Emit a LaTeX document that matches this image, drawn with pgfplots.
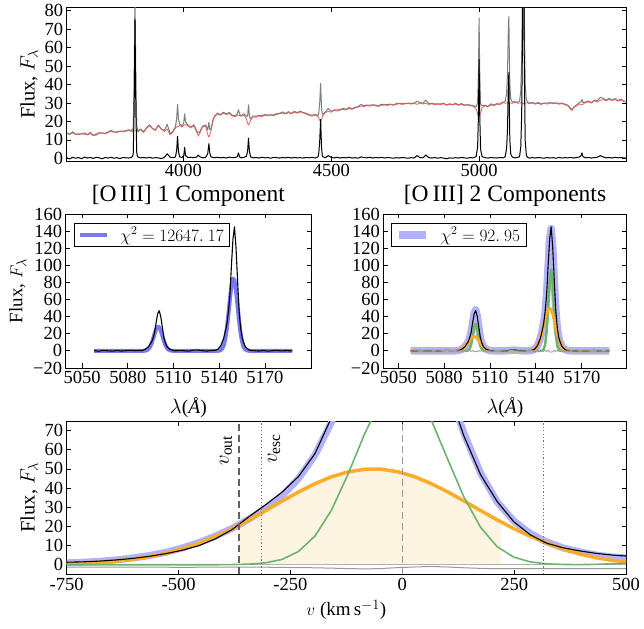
\documentclass[border=0pt]{standalone}
\usepackage{fontspec}
\setmainfont{Liberation Serif}
\usepackage{pgfplots}
\pgfplotsset{compat=1.18}
\usepackage{pgfplotstable}

\definecolor{cred}{RGB}{225,85,85}
\definecolor{cgray}{RGB}{125,125,125}
\definecolor{corange}{RGB}{251,172,40}
\definecolor{cfill}{RGB}{254,244,226}
\definecolor{cgreen}{RGB}{108,180,108}
\definecolor{cbluel}{RGB}{178,178,250}
\definecolor{cblue}{RGB}{120,120,245}

\newcommand{\tickfont}{\fontsize{18.5}{20}\selectfont}
\newcommand{\labfont}{\fontsize{20.5}{22}\selectfont}

\pgfplotsset{
  myax/.style={
    scale only axis, anchor=south west,
    axis line style={line width=0.9pt},
    tick style={black, line width=0.8pt},
    tick align=inside, tick pos=both,
    major tick length=4.5pt,
    ticklabel style={font=\tickfont},
    /pgf/number format/assume math mode=true,
    /pgf/number format/1000 sep={},
    clip=true,
    every axis plot/.append style={no markers, line join=round},
    legend image code/.code={\draw[##1, line cap=butt] (0pt,0pt) -- (27pt,0pt); \path (36pt,0pt);},
  }
}

\pgfplotstableread{
lam red blk gry
3605 13.5 0.4 13.9
3615 13.2 -0.3 12.9
3625 13.8 0.6 14.4
3635 13.0 0.1 13.1
3645 12.8 0.5 13.3
3655 13.4 -0.2 13.2
3665 13.1 0.7 13.8
3675 12.7 0.2 12.9
3685 13.5 0.5 14.0
3695 12.4 0.0 12.4
3705 12.6 0.6 13.2
3715 13.6 0.3 13.9
3725 13.9 -0.2 13.7
3735 13.2 0.5 13.7
3745 14.0 0.2 14.2
3755 14.6 0.6 15.2
3765 14.2 0.1 14.3
3775 14.0 0.4 14.4
3785 14.8 -0.1 14.7
3795 14.3 0.5 14.8
3805 14.7 0.3 15.0
3815 15.3 0.2 15.5
3825 14.4 0.6 15.0
3830 14.6 2.0 16.6
3833 14.8 25 39.8
3836 14.9 75 89.9
3839 15.0 25 40.0
3842 14.9 3 17.9
3845 14.2 0.8 15.0
3855 15.6 0.3 15.9
3865 14.0 0.5 14.5
3875 16.3 0.2 16.5
3885 17.6 0.6 18.2
3895 16.2 0.1 16.3
3905 15.1 0.4 15.5
3915 17.8 0.3 18.1
3925 16.0 -0.1 15.9
3935 14.6 0.5 15.1
3945 15.9 2.5 18.4
3955 12.8 0.6 13.4
3965 14.4 0.4 14.8
3973 16.5 0.8 17.3
3977 17.0 4.5 21.5
3980 17.2 12 29.2
3983 17.4 4 21.4
3987 17.9 0.8 18.7
3995 17.0 0.5 17.5
4001 17.8 1.5 19.3
4004 18.2 6 24.2
4007 18.4 1.5 19.9
4015 17.6 0.5 18.1
4025 16.4 0.6 17.0
4035 17.8 0.4 18.2
4045 14.0 0.8 14.8
4050 12.0 1.8 13.8
4055 13.5 0.9 14.4
4065 17.2 0.3 17.5
4075 17.5 0.6 18.1
4082 13.0 2.5 15.5
4086 11.5 8 19.5
4089 12.5 3 15.5
4093 14.8 0.8 15.6
4100 20.5 0.5 21.0
4105 22.5 0.4 22.9
4115 24.0 0.6 24.6
4125 23.4 0.3 23.7
4135 24.5 0.5 25.0
4145 23.8 0.2 24.0
4155 24.2 0.7 24.9
4165 23.0 0.4 23.4
4175 22.6 0.5 23.1
4182 23.2 0.9 24.1
4186 23.4 3.0 26.4
4190 23.2 0.8 24.0
4195 22.8 0.3 23.1
4205 23.5 0.6 24.1
4213 21.5 1.2 22.7
4217 19.0 4.0 23.0
4220 18.0 11 29.0
4223 18.8 4 22.8
4227 20.5 0.8 21.3
4235 22.6 0.3 22.9
4245 22.3 0.5 22.8
4255 23.0 0.2 23.2
4265 22.6 0.6 23.2
4275 23.4 0.3 23.7
4285 23.0 0.5 23.5
4295 23.5 0.1 23.6
4305 23.0 0.6 23.6
4315 23.8 0.4 24.2
4325 24.2 0.2 24.4
4335 24.6 0.5 25.1
4345 24.0 0.3 24.3
4355 24.7 0.6 25.3
4365 24.2 0.2 24.4
4375 25.0 0.5 25.5
4385 24.5 0.3 24.8
4395 25.2 0.4 25.6
4405 24.6 0.2 24.8
4415 24.0 0.5 24.5
4425 23.4 0.3 23.7
4435 22.8 0.6 23.4
4445 23.6 0.2 23.8
4455 22.5 0.8 23.3
4458 22.0 3.0 25.0
4461 20.5 10 30.5
4464 19.5 21 40.5
4467 21.0 6 27.0
4470 22.8 1.0 23.8
4480 24.8 0.4 25.2
4490 25.5 1.5 27.0
4500 25.0 0.5 25.5
4510 26.0 0.3 26.3
4520 25.6 0.6 26.2
4530 26.2 0.2 26.4
4540 26.6 0.5 27.1
4550 26.2 0.3 26.5
4560 27.0 0.6 27.6
4570 26.6 0.2 26.8
4580 27.3 0.4 27.7
4590 27.8 0.1 27.9
4600 28.4 0.8 29.2
4610 28.0 0.5 28.5
4620 28.6 0.3 28.9
4630 28.2 0.6 28.8
4640 28.8 0.2 29.0
4650 28.4 0.5 28.9
4660 28.2 0.3 28.5
4670 28.7 0.6 29.3
4680 29.0 0.2 29.2
4690 28.6 0.5 29.1
4700 29.1 0.3 29.4
4710 28.8 0.1 28.9
4720 29.3 0.4 29.7
4730 29.6 0.2 29.8
4740 29.2 0.5 29.7
4750 29.5 0.3 29.8
4760 29.8 0.1 29.9
4770 29.4 0.4 29.8
4780 29.7 0.2 29.9
4790 29.3 1.5 30.8
4800 29.9 0.5 30.4
4810 29.5 0.3 29.8
4820 29.8 1.8 31.6
4830 29.2 0.4 29.6
4840 29.6 0.2 29.8
4850 29.0 0.5 29.5
4860 29.4 0.1 29.5
4870 29.1 0.4 29.5
4880 29.6 0.2 29.8
4890 29.0 -0.2 28.8
4900 29.3 0.3 29.6
4910 29.0 0.1 29.1
4920 29.4 0.4 29.8
4930 28.8 0.2 29.0
4940 29.2 0.5 29.7
4950 28.6 0.3 28.9
4960 29.0 0.1 29.1
4970 28.5 0.4 28.9
4980 28.2 0.3 28.5
4990 27.0 1.0 28.0
4995 24.0 6.0 30.0
4998 23.0 25 48.0
5000 22.5 53.5 76.0
5002 23.2 25 48.2
5005 24.5 5 29.5
5010 27.5 1 28.5
5020 28.4 0.4 28.8
5030 28.0 0.2 28.2
5040 29.0 0.5 29.5
5050 28.6 0.3 28.9
5060 29.4 0.2 29.6
5070 29.0 0.5 29.5
5080 30.2 0.3 30.5
5088 29.9 0.8 30.7
5093 30.0 5.2 35.2
5096 30.1 15 45.1
5099 30.2 40 70.2
5100.7 30.3 46.5 76.8
5102 30.3 30 60.3
5104 30.2 10 40.2
5107 30.0 2.5 32.5
5112 29.8 0.8 30.6
5120 30.4 0.3 30.7
5130 29.9 0.5 30.4
5137 30.0 1.0 31.0
5141 30.1 6.2 36.3
5144 30.2 23 53.2
5147 30.0 66 96.0
5150 29.5 145 174.5
5153 29.7 48 77.7
5156 29.9 9.5 39.4
5160 30.1 1.5 31.6
5165 29.9 0.5 30.4
5170 29.6 0.2 29.8
5180 30.0 0.4 30.4
5190 29.4 0.2 29.6
5200 29.8 0.5 30.3
5210 29.2 0.3 29.5
5220 29.9 0.1 30.0
5230 29.4 0.5 29.9
5240 30.0 0.2 30.2
5250 29.6 0.4 30.0
5260 29.9 0.1 30.0
5270 29.3 0.5 29.8
5280 29.7 0.2 29.9
5290 29.0 0.4 29.4
5300 28.5 0.3 28.8
5310 26.5 0.6 27.1
5315 26.0 0.4 26.4
5320 27.5 0.2 27.7
5330 28.5 0.5 29.0
5340 29.5 0.8 30.3
5345 29.2 1.5 30.7
5348 29.0 3.0 32.0
5351 29.3 1.0 30.3
5360 30.2 0.3 30.5
5370 30.6 0.5 31.1
5380 30.0 0.2 30.2
5390 31.2 0.4 31.6
5400 30.6 0.6 31.2
5410 31.5 1.5 33.0
5420 31.8 0.8 32.6
5430 31.2 0.3 31.5
5440 32.0 0.5 32.5
5450 31.4 0.2 31.6
5460 31.8 0.6 32.4
5470 31.0 0.3 31.3
5480 31.6 0.5 32.1
5490 30.8 0.2 31.0
5495 30.5 0.4 30.9
}\spec

\pgfplotstableread{
lam dat one tot nar brd res
5058 0.3 0 0 0 0 0.3
5061 -0.4 0 0 0 0 -0.4
5064 0.5 0 0 0 0 0.5
5067 0.1 0 0 0 0 0.1
5070 -0.3 0 0 0 0 -0.3
5073 0.4 0 0 0 0 0.4
5076 -0.2 0 0 0 0 -0.2
5079 0.3 0 0 0 0 0.3
5082 0.6 0 0 0 0 0.6
5085 0.2 0 0.02 0 0.02 0.2
5087.65 0.4 0 0.14 0 0.14 0.26
5089.65 0.5 0.03 0.62 0 0.62 -0.1
5090.65 1.4 0.11 1.17 0 1.17 0.2
5091.65 2.0 0.35 2.07 0 2.07 -0.1
5092.65 3.6 0.95 3.40 0 3.40 0.2
5093.65 5.0 2.27 5.23 0.01 5.22 -0.2
5094.65 7.9 4.77 7.58 0.08 7.50 0.3
5095.65 10.3 8.79 10.57 0.50 10.07 -0.3
5096.65 15.2 14.23 14.91 2.26 12.65 0.3
5097.65 21.6 20.34 22.15 7.28 14.87 -0.5
5098.65 33.5 25.60 33.08 16.74 16.34 0.4
5099.65 43.5 28.36 44.13 27.35 16.78 -0.6
5100.65 47.0 27.65 47.99 31.88 16.11 -1.0
5101.65 40.2 23.72 40.90 26.44 14.46 -0.7
5102.65 28.1 17.92 27.79 15.64 12.15 0.3
5103.65 15.8 11.91 16.11 6.58 9.53 -0.3
5104.65 9.2 6.98 8.98 1.97 7.01 0.2
5105.65 5.0 3.59 5.22 0.42 4.80 -0.2
5106.65 3.3 1.63 3.15 0.06 3.09 0.15
5107.65 1.7 0.65 1.86 0.01 1.86 -0.16
5108.65 1.2 0.23 1.04 0 1.04 0.16
5110.65 0.1 0.02 0.27 0 0.27 -0.17
5113.65 0.3 0 0.02 0 0.02 0.28
5117 0.2 0 0 0 0 0.2
5120 -0.3 0 0 0 0 -0.3
5123 0.8 0 0.5 0 0 0.3
5126 1.0 0 0.9 0 0 0.1
5129 0.3 0 0.4 0 0 -0.1
5132 -0.2 0 0 0 0 -0.2
5134 0.3 0 0.03 0 0.03 0.27
5137 0.6 0.005 0.43 0 0.43 0.17
5139 1.7 0.10 1.86 0 1.86 -0.16
5140 3.8 0.34 3.50 0 3.50 0.3
5141 6.0 1.05 6.16 0 6.16 -0.16
5142 10.5 2.83 10.12 0 10.12 0.38
5143 15.2 6.75 15.58 0.03 15.55 -0.38
5144 22.9 14.2 22.58 0.24 22.34 0.3
5145 31.0 26.2 31.5 1.49 30.0 -0.5
5146 45.0 42.4 44.4 6.73 37.7 0.6
5147 65.2 60.6 66.0 21.7 44.3 -0.8
5148 99.5 76.3 98.6 49.9 48.7 0.9
5149 130.5 84.5 131.5 81.5 50.0 -1.0
5150 145.0 82.4 143.0 95.0 48.0 -1.5
5151 120.8 70.7 121.9 78.8 43.1 -1.1
5152 83.5 53.4 82.8 46.6 36.2 0.7
5153 47.4 35.5 48.0 19.6 28.4 -0.6
5154 27.2 20.8 26.8 5.88 20.9 0.4
5155 15.2 10.7 15.6 1.26 14.3 -0.4
5156 9.7 4.87 9.4 0.19 9.21 0.3
5157 5.3 1.94 5.56 0.02 5.54 -0.26
5158 3.3 0.68 3.10 0 3.10 0.2
5160 0.6 0.06 0.80 0 0.80 -0.2
5163 0.3 0 0.06 0 0.06 0.24
5166 -0.2 0 0 0 0 -0.2
5169 0.4 0 0 0 0 0.4
5172 -0.3 0 0 0 0 -0.3
5175 0.2 0 0 0 0 0.2
5178 0.5 0 0 0 0 0.5
5181 -0.1 0 0 0 0 -0.1
5184 0.3 0 0 0 0 0.3
5188 0.0 0 0 0 0 0.0
}\oiii

\pgfplotstableread{
v dat tot nar brd res
-750 1.3 1.0 0 0.5 -1.3
-713 1.5 1.3 0 0.8 -1.3
-676 1.9 1.8 0 1.25 -1.2
-639 2.5 2.5 0 1.93 -1.3
-602 3.3 3.5 0 2.9 -1.2
-565 4.4 4.8 0 4.24 -1.2
-528 5.8 6.5 0 6.02 -1.3
-491 7.6 8.8 0 8.33 -1.4
-454 10.0 11.6 0 11.22 -1.3
-417 13.6 15.0 0 14.71 -1.2
-380 18.4 19.0 0.08 18.77 -1.3
-343 25.0 23.8 0.29 23.3 -1.2
-306 31.2 29.3 0.96 28.18 -1.3
-269 37.8 35.9 2.76 33.15 -1.4
-232 46.0 44.9 6.9 37.96 -1.5
-195 58.0 57.3 15.0 42.31 -1.6
-158 77.0 74.5 28.6 45.91 -1.8
-121 100 95.9 47.4 48.47 -2.0
-84 124 118.2 68.4 49.82 -2.2
-47 140 136.0 86.2 49.84 -2.0
-10 145 143.3 94.8 48.53 -1.5
27 138 136.8 90.8 45.99 -1.2
64 118 118.3 75.9 42.42 -0.9
101 92 93.4 55.3 38.09 -1.2
138 67 68.5 35.2 33.28 -1.6
175 47 47.8 19.5 28.31 -1.9
212 33.0 32.8 9.4 23.43 -2.1
249 22.5 22.9 3.97 18.89 -2.1
286 15.6 16.3 1.46 14.81 -2.0
323 11.2 11.9 0.47 11.31 -2.0
360 8.8 8.7 0.13 8.2 -2.0
397 7.2 6.7 0.05 5.6 -2.0
434 5.9 5.0 0.2 3.6 -2.0
471 5.0 4.0 0.5 2.2 -2.0
508 4.4 3.5 0.8 1.3 -2.0
}\vel

\pgfplotstableread{
v o
-364 20.7
-343 23.3
-306 28.18
-269 33.15
-232 37.96
-195 42.31
-158 45.91
-121 48.47
-84 49.82
-47 49.84
-10 48.53
27 45.99
64 42.42
101 38.09
138 33.28
175 28.31
212 23.43
220 22.4
220 0
-364 0
}\velfill

\begin{document}
\begin{tikzpicture}[x=1pt,y=1pt]
\useasboundingbox (0,0) rectangle (644,628);

% ---------- top panel ----------
\begin{axis}[myax, at={(66.7pt,467pt)}, width=559.3pt, height=153.7pt,
  xmin=3605, xmax=5497, ymin=-1.4, ymax=81.8,
  xtick={4000,4500,5000}, ytick={0,10,...,80},
  ylabel={Flux, $F_\lambda$}, ylabel style={font=\labfont}]
\addplot[cgray, line width=1pt] table[x=lam,y=gry]{\spec};
\addplot[cred, line width=0.9pt, opacity=0.85] table[x=lam,y=red]{\spec};
\addplot[black, line width=1pt] table[x=lam,y=blk]{\spec};
\end{axis}

% ---------- middle left ----------
\begin{axis}[myax, at={(65.7pt,260pt)}, width=245.3pt, height=154pt,
  xmin=5039.3, xmax=5200.2, ymin=-20, ymax=160,
  xtick={5050,5080,5110,5140,5170},
  ytick={-20,0,20,40,60,80,100,120,140,160},
  yticklabels={−20,0,20,40,60,80,100,120,140,160},
  ylabel={Flux, $F_\lambda$}, ylabel style={font=\fontsize{19}{21}\selectfont},
  xlabel={$\lambda$(\textit{Å})},
  xlabel style={at={(axis description cs:0.5,0)}, anchor=base, yshift=-46pt, inner sep=0pt, font=\fontsize{19.5}{21}\selectfont},
  title={[O\,III] 1 Component},
  title style={at={(axis description cs:0.5,1)}, anchor=base, yshift=6pt, font=\fontsize{23.5}{26}\selectfont},
  legend style={at={(0.034,0.944)}, anchor=north west, draw=black, line width=0.9pt,
    font=\fontsize{16.5}{18}\selectfont, inner xsep=4pt, inner ysep=2pt, cells={anchor=west}}]
\addplot[cblue, line width=4pt] table[x=lam,y=one]{\oiii};
\addlegendentry{$\chi^2=12647.\ 17$}
\addplot[black, line width=1.1pt, forget plot] table[x=lam,y=dat]{\oiii};
\end{axis}

% ---------- middle right ----------
\begin{axis}[myax, at={(383.3pt,260pt)}, width=243.4pt, height=154pt,
  xmin=5040.2, xmax=5199.4, ymin=-20, ymax=160,
  xtick={5050,5080,5110,5140,5170},
  ytick={-20,0,20,40,60,80,100,120,140,160},
  yticklabels={−20,0,20,40,60,80,100,120,140,160},
  xlabel={$\lambda$(\textit{Å})},
  xlabel style={at={(axis description cs:0.5,0)}, anchor=base, yshift=-46pt, inner sep=0pt, font=\fontsize{19.5}{21}\selectfont},
  title={[O\,III] 2 Components},
  title style={at={(axis description cs:0.5,1)}, anchor=base, yshift=6pt, font=\fontsize{23.5}{26}\selectfont},
  legend style={at={(0.030,0.944)}, anchor=north west, draw=black, line width=0.9pt,
    font=\fontsize{16.5}{18}\selectfont, inner xsep=4pt, inner ysep=2pt, cells={anchor=west}}]
\addplot[cbluel, line width=7.5pt] table[x=lam,y=tot]{\oiii};
\addlegendentry{$\chi^2=92.\ 95$}
\addplot[cgreen, line width=2.5pt, forget plot] table[x=lam,y=nar]{\oiii};
\addplot[corange, line width=3pt, forget plot] table[x=lam,y=brd]{\oiii};
\addplot[black, line width=1.1pt, forget plot] table[x=lam,y=dat]{\oiii};
\addplot[cgray!70, line width=1pt, forget plot] table[x=lam,y=res]{\oiii};
\end{axis}

% ---------- bottom panel ----------
\begin{axis}[myax, at={(66.7pt,53.7pt)}, width=559.3pt, height=153.3pt,
  xmin=-750, xmax=500, ymin=-5, ymax=75,
  xtick={-750,-500,-250,0,250,500},
  xticklabels={-750,-500,-250,0,250,500},
  ytick={0,10,...,70},
  ylabel={Flux, $F_\lambda$}, ylabel style={font=\labfont},
  xlabel={$v$ (km\,s$^{-1}$)},
  xlabel style={at={(axis description cs:0.5,0)}, anchor=base, yshift=-41.5pt, font=\fontsize{19}{21}\selectfont}]
\addplot[draw=none, fill=cfill] table[x=v,y=o]{\velfill};
\addplot[cgray!60, line width=1.2pt] coordinates {(-750,0) (500,0)};
\addplot[cbluel, line width=7pt] table[x=v,y=tot]{\vel};
\addplot[corange, line width=3.5pt] table[x=v,y=brd]{\vel};
\addplot[cgreen, line width=1.6pt] table[x=v,y=nar]{\vel};
\addplot[black, line width=1.1pt] table[x=v,y=dat]{\vel};
\addplot[cgray!80, line width=1pt] table[x=v,y=res]{\vel};
\addplot[black!62, line width=2pt, dash pattern=on 7pt off 4pt] coordinates {(-364,-5) (-364,75)};
\addplot[black!40, line width=1.3pt, dash pattern=on 7pt off 4pt] coordinates {(0,-5) (0,75)};
\addplot[black!55, line width=1.2pt, dash pattern=on 1.2pt off 2.2pt] coordinates {(-315,-5) (-315,75)};
\addplot[black!55, line width=1.2pt, dash pattern=on 1.2pt off 2.2pt] coordinates {(315,-5) (315,75)};
\node[rotate=90, anchor=south east, inner sep=0pt, font=\fontsize{22}{24}\selectfont] at (axis cs:-380,67.4) {$v_{\rm out}$};
\node[rotate=90, anchor=south east, inner sep=0pt, font=\fontsize{22}{24}\selectfont] at (axis cs:-272.5,68.4) {$v_{\rm esc}$};
\end{axis}
\end{tikzpicture}
\end{document}
